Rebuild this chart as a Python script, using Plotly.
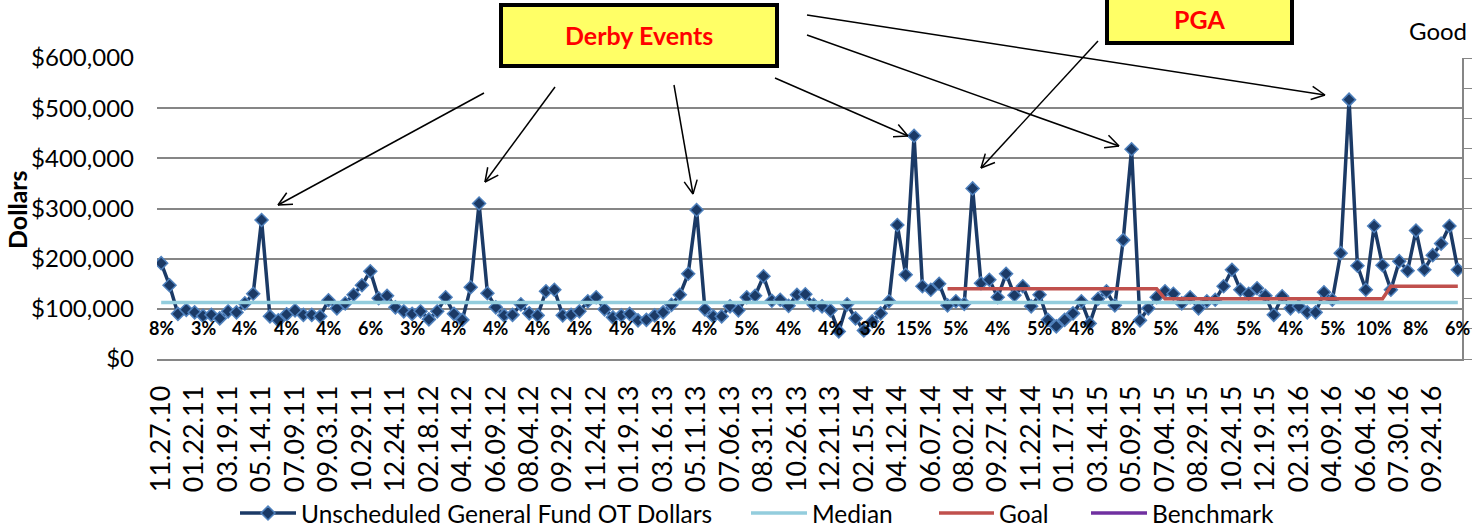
import math
import pandas as pd
import plotly.graph_objects as go

# ---------------- data ----------------
start_date = "2010-11-27"
n_periods = 156  # biweekly pay periods
categories = [d.strftime("%m.%d.%y") for d in pd.date_range(start_date, periods=n_periods, freq="14D")]

tick_labels = ["11.27.10", "01.22.11", "03.19.11", "05.14.11", "07.09.11", "09.03.11", "10.29.11",
               "12.24.11", "02.18.12", "04.14.12", "06.09.12", "08.04.12", "09.29.12", "11.24.12",
               "01.19.13", "03.16.13", "05.11.13", "07.06.13", "08.31.13", "10.26.13", "12.21.13",
               "02.15.14", "04.12.14", "06.07.14", "08.02.14", "09.27.14", "11.22.14", "01.17.15",
               "03.14.15", "05.09.15", "07.04.15", "08.29.15", "10.24.15", "12.19.15", "02.13.16",
               "04.09.16", "06.04.16", "07.30.16", "09.24.16"]

ot_dollars_k = [191, 147, 90, 98, 93, 86, 88, 81, 95, 93,
                111, 130, 277, 85, 77, 89, 97, 88, 88, 85,
                117, 101, 111, 128, 147, 175, 121, 126, 103, 95,
                90, 95, 79, 95, 123, 90, 78, 143, 310, 131,
                103, 87, 88, 109, 91, 87, 135, 138, 87, 88,
                95, 115, 123, 99, 83, 87, 90, 77, 78, 87,
                93, 108, 128, 170, 297, 99, 85, 85, 105, 97,
                123, 126, 165, 116, 118, 106, 128, 129, 108, 105,
                97, 55, 109, 81, 57, 75, 91, 115, 267, 168,
                445, 145, 138, 150, 107, 115, 110, 340, 151, 158,
                123, 170, 127, 145, 105, 128, 78, 65, 78, 91,
                115, 71, 120, 135, 107, 237, 418, 77, 101, 123,
                135, 130, 111, 123, 101, 115, 118, 145, 178, 138,
                130, 141, 126, 88, 125, 101, 105, 93, 93, 133,
                118, 211, 517, 186, 138, 265, 187, 138, 195, 176,
                256, 178, 207, 230, 265, 178]
ot_dollars = [v * 1000 for v in ot_dollars_k]

median_value = 112600
goal_levels = [140000, 120000, 145000]
goal_start_index = [94, 120, 147]

pct_labels = ["8%", "3%", "4%", "4%", "4%", "6%", "3%", "4%", "4%", "4%", "4%", "4%", "4%", "4%",
              "5%", "4%", "4%", "3%", "15%", "5%", "4%", "5%", "4%", "8%", "5%", "4%", "5%", "4%",
              "5%", "10%", "8%", "6%"]
pct_every = 5

series_names = ["Unscheduled General Fund OT Dollars", "Median", "Goal", "Benchmark"]
series_colors = ["#1B3A66", "#93CDDD", "#C0504D", "#7030A0"]

# ---------------- derived series ----------------
median = [median_value] * n_periods
goal = [None] * n_periods
for k, lvl in enumerate(goal_levels):
    end = goal_start_index[k + 1] if k + 1 < len(goal_levels) else n_periods
    for i in range(goal_start_index[k], end):
        goal[i] = lvl

FONT = "Lato"
NAVY = series_colors[0]
MARKER_EDGE = "#4F81BD"

fig = go.Figure()
fig.add_trace(go.Scatter(
    x=categories, y=ot_dollars, mode="lines+markers", name=series_names[0], showlegend=False,
    line=dict(color=NAVY, width=3.5),
    marker=dict(symbol="diamond", size=10, color=NAVY, line=dict(color=MARKER_EDGE, width=1.5)),
))
fig.add_trace(go.Scatter(x=categories, y=median, mode="lines", name=series_names[1], showlegend=False,
                         line=dict(color=series_colors[1], width=3.5)))
fig.add_trace(go.Scatter(x=categories, y=goal, mode="lines", name=series_names[2], showlegend=False,
                         line=dict(color=series_colors[2], width=3.5)))
fig.add_trace(go.Scatter(x=[categories[0]], y=[None], mode="lines", name=series_names[3], showlegend=False,
                         line=dict(color=series_colors[3], width=3.5), yaxis="y2"))

# percentage labels along the bottom
for j, t in enumerate(pct_labels):
    fig.add_annotation(x=categories[j * pct_every], y=62000, xref="x", yref="y", text=t,
                       xanchor="center", yanchor="middle",
                       showarrow=False, font=dict(family=FONT, size=18, color="black", weight="bold"))

# ---------------- decorations in pixel space ----------------
L, R, T, B = 157, 1462, 58, 359
W, H = R - L, B - T


def px(x):
    return (x - L) / W


def py(y):
    return (B - y) / H


shapes = []


def seg(x0, y0, x1, y1, color="black", width=1.5):
    shapes.append(dict(type="line", xref="paper", yref="paper", x0=px(x0), y0=py(y0), x1=px(x1), y1=py(y1),
                       line=dict(color=color, width=width)))


def arrow(x0, y0, x1, y1, head=15, ang=26):
    seg(x0, y0, x1, y1)
    dx, dy = x0 - x1, y0 - y1
    n = math.hypot(dx, dy)
    dx, dy = dx / n, dy / n
    for s in (1, -1):
        a = math.radians(ang * s)
        hx = dx * math.cos(a) - dy * math.sin(a)
        hy = dx * math.sin(a) + dy * math.cos(a)
        seg(x1, y1, x1 + head * hx, y1 + head * hy)


# Derby arrows
arrow(484, 93, 278, 205)
arrow(555, 87, 485, 182)
arrow(674, 85, 693, 194)
arrow(775, 78, 908, 136)
arrow(807, 35, 1119, 146)
arrow(807, 15, 1325, 95)
# PGA arrow
arrow(1098, 41, 981, 168)

# boxes
shapes.append(dict(type="rect", xref="paper", yref="paper", x0=px(501), x1=px(777), y0=py(66), y1=py(5),
                   fillcolor="#FFFF66", line=dict(color="black", width=4)))
shapes.append(dict(type="rect", xref="paper", yref="paper", x0=px(1107), x1=px(1292), y0=py(43), y1=py(-20),
                   fillcolor="#FFFF66", line=dict(color="black", width=4)))


def label(x, y, text, size, color="black", bold=False, angle=0, xanchor="center"):
    fig.add_annotation(xref="paper", yref="paper", x=px(x), y=py(y), text=text, showarrow=False,
                       xanchor=xanchor, yanchor="middle", textangle=angle,
                       font=dict(family=FONT, size=size, color=color, weight="bold" if bold else "normal"))


label(639, 35, "Derby Events", 25, "#FF0000", True)
label(1199, 19, "PGA", 25, "#FF0000", True)
label(1438, 30, "Good", 24)
label(17, 210, "Dollars", 25, bold=True, angle=-90)

# ---------------- legend (drawn to match the reference's long key lines) ----------------
LEG_Y = 513
legend_line_x = [(240, 296), (751, 807), (939, 994), (1091, 1147)]
for (x0, x1), name, color in zip(legend_line_x, series_names, series_colors):
    seg(x0, LEG_Y, x1, LEG_Y, color=color, width=3.5)
    label(x1 + 3, LEG_Y, name, 24.5, xanchor="left")
# diamond marker on the first key
cx, r = (legend_line_x[0][0] + legend_line_x[0][1]) / 2, 7
shapes.append(dict(type="path", xref="paper", yref="paper",
                   path=f"M{px(cx)},{py(LEG_Y - r)} L{px(cx + r)},{py(LEG_Y)} "
                        f"L{px(cx)},{py(LEG_Y + r)} L{px(cx - r)},{py(LEG_Y)} Z",
                   fillcolor=NAVY, line=dict(color=MARKER_EDGE, width=1.5)))

fig.update_layout(
    width=1484, height=529,
    margin=dict(l=L, r=1484 - R, t=T, b=529 - B, autoexpand=False),
    paper_bgcolor="white", plot_bgcolor="white",
    font=dict(family=FONT, color="black"),
    shapes=shapes,
    showlegend=False,
    xaxis=dict(type="category", range=[-0.5, n_periods - 0.5], tickmode="array",
               tickvals=tick_labels, ticktext=tick_labels, tickangle=-90, automargin=False,
               tickfont=dict(family=FONT, size=27), showgrid=False, showline=True,
               linecolor="#868686", linewidth=1.5, ticks="", ticklabelstandoff=14),
    yaxis=dict(range=[0, 600000], dtick=100000, tickformat="$,.0f", showgrid=True, automargin=False,
               gridcolor="#868686", gridwidth=1.5, zeroline=False, showline=False,
               tickfont=dict(family=FONT, size=24), ticks="", ticklabelstandoff=22),
    yaxis2=dict(overlaying="y", side="right", range=[0, 10], dtick=1, showgrid=False, automargin=False,
                showticklabels=False, ticks="outside", ticklen=8, tickcolor="#868686",
                showline=True, linecolor="#868686", linewidth=1.5, zeroline=False),
)

fig.write_html("out.html", config={"displayModeBar": False},
               post_script="document.body.style.margin='0px';")
